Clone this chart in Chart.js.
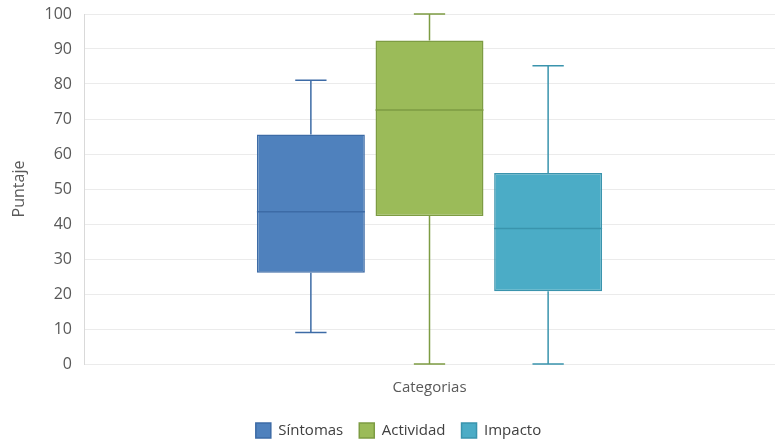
<!DOCTYPE html>
<html>
<head>
<meta charset="utf-8">
<script src="https://cdn.jsdelivr.net/npm/chart.js@4"></script>
<style>
html,body{margin:0;padding:0;background:#fff;}
#wrap{width:775px;height:443px;}
</style>
</head>
<body>
<div id="wrap"><canvas id="c" width="775" height="443"></canvas></div>
<script>
const categories = ['Categorias'];
const seriesNames = ['Síntomas', 'Actividad', 'Impacto'];
const minValues = [9.0, 0, 0];
const q1Values = [26.1, 42.3, 20.8];
const medianValues = [43.5, 72.6, 38.7];
const q3Values = [65.6, 92.4, 54.6];
const maxValues = [81.1, 100, 85.2];
const yTicks = [0, 10, 20, 30, 40, 50, 60, 70, 80, 90, 100];

const fills = ['#4F81BD', '#9BBB59', '#4BACC6'];
const borders = ['#3D6BA6', '#7D9C43', '#3A94AD'];

const datasets = seriesNames.map((name, i) => ({
  label: name,
  data: [[q1Values[i], q3Values[i]]],
  backgroundColor: fills[i],
  borderColor: borders[i],
  borderWidth: 1.5,
  borderSkipped: false,
  barPercentage: 0.91,
  categoryPercentage: 0.515
}));

const boxPlugin = {
  id: 'boxWhiskers',
  afterDatasetsDraw(chart) {
    const ctx = chart.ctx;
    const y = chart.scales.y;
    chart.data.datasets.forEach((ds, i) => {
      const meta = chart.getDatasetMeta(i);
      meta.data.forEach((bar) => {
        const x = bar.x;
        const w = bar.width;
        const cap = w * 0.29;
        const pMin = y.getPixelForValue(minValues[i]);
        const pMax = y.getPixelForValue(maxValues[i]);
        const pQ1 = y.getPixelForValue(q1Values[i]);
        const pQ3 = y.getPixelForValue(q3Values[i]);
        const pMed = y.getPixelForValue(medianValues[i]);
        ctx.save();
        ctx.strokeStyle = borders[i];
        ctx.lineWidth = 1.5;
        ctx.beginPath();
        ctx.moveTo(x, pQ3); ctx.lineTo(x, pMax);
        ctx.moveTo(x - cap / 2, pMax); ctx.lineTo(x + cap / 2, pMax);
        ctx.moveTo(x, pQ1); ctx.lineTo(x, pMin);
        ctx.moveTo(x - cap / 2, pMin); ctx.lineTo(x + cap / 2, pMin);
        ctx.moveTo(x - w / 2, pMed); ctx.lineTo(x + w / 2, pMed);
        ctx.stroke();
        ctx.restore();
      });
    });
  }
};

const legendPlacePlugin = {
  id: 'legendPlace',
  beforeLayout(chart) {
    const lg = chart.legend;
    if (lg && !lg._patched) {
      const orig = lg.fit.bind(lg);
      lg.fit = function () { orig(); this.height = 36; };
      lg._patched = true;
    }
  },
  afterLayout(chart) {
    const lg = chart.legend;
    if (lg) { lg.left += 6; lg.right += 6; }
  }
};

Chart.defaults.font.family = '"Open Sans", "Liberation Sans", sans-serif';
Chart.defaults.color = '#595959';

new Chart(document.getElementById('c'), {
  type: 'bar',
  data: { labels: categories, datasets },
  options: {
    responsive: false,
    animation: false,
    layout: { padding: { top: 0, right: 0, left: 10, bottom: 0 } },
    plugins: {
      legend: {
        position: 'bottom',
        labels: {
          boxWidth: 15,
          boxHeight: 15,
          font: { size: 15 },
          color: '#404040',
          padding: 16
        }
      },
      tooltip: { enabled: false }
    },
    scales: {
      x: {
        grid: { display: false },
        border: { display: false },
        ticks: { display: false },
        title: { display: true, text: 'Categorias', font: { size: 15 }, color: '#595959', padding: { top: 7, bottom: 10 } }
      },
      y: {
        min: 0,
        max: 100,
        afterBuildTicks(scale) { scale.ticks = yTicks.map(v => ({ value: v })); },
        ticks: { font: { size: 16 }, color: '#595959', padding: 12 },
        grid: { color: '#EBEBEB', lineWidth: 1, drawTicks: false },
        border: { display: true, color: '#D9D9D9', width: 1 },
        title: { display: true, text: 'Puntaje', font: { size: 16 }, color: '#595959', padding: { top: 0, bottom: 4 } },
        afterFit(scale) { scale.width = 74; scale.paddingTop = 14; }
      }
    }
  },
  plugins: [boxPlugin, legendPlacePlugin]
});
</script>
</body>
</html>
